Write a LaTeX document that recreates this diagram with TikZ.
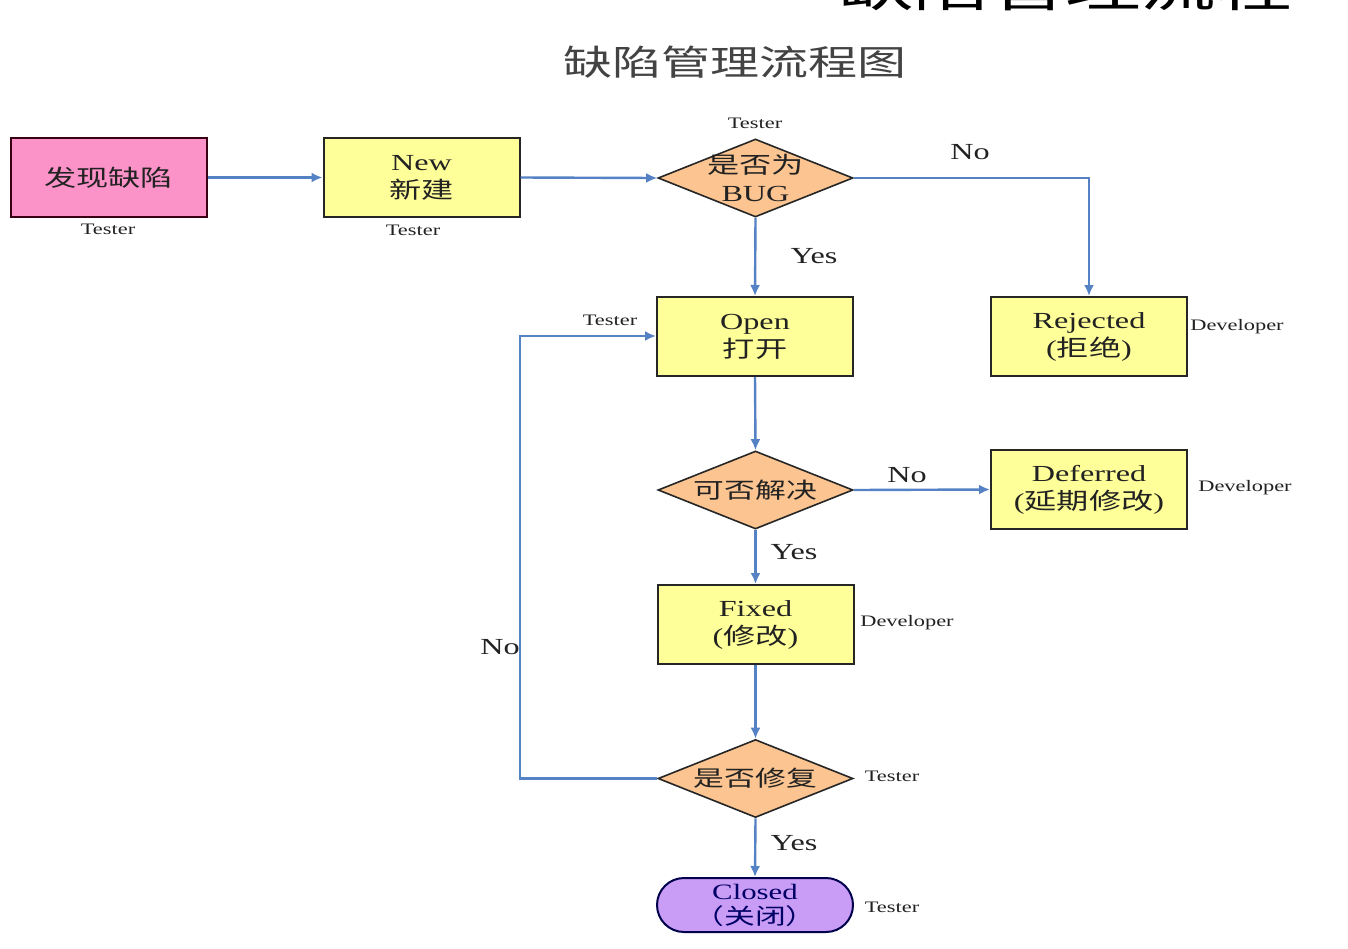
\documentclass[tikz,border=0pt]{standalone}
\usepackage{fontspec}
\setmainfont{Liberation Serif}[FakeStretch=1.4]
\newfontfamily\cjk{Noto Sans CJK SC}[FakeStretch=1.4]
\usetikzlibrary{shapes.geometric,arrows.meta}
\definecolor{pinkf}{HTML}{FB92C8}
\definecolor{yelf}{HTML}{FFFF99}
\definecolor{oranf}{HTML}{FBC490}
\definecolor{lavf}{HTML}{C99CF5}
\definecolor{linec}{HTML}{5582C4}
\definecolor{txt}{HTML}{222222}
\tikzset{
  boxnode/.style={draw=black!85, line width=2pt, minimum width=196pt, minimum height=79pt, inner sep=0pt, fill=yelf},
  dianode/.style={diamond, draw=black!85, line width=1.6pt, minimum width=195pt, minimum height=78pt, inner sep=0pt, fill=oranf},
  boxtext/.style={align=center, text=txt, font=\fontsize{23}{28}\selectfont},
  role/.style={text=txt, font=\fontsize{16}{17}\selectfont, inner sep=0pt},
  yn/.style={text=txt, font=\fontsize{23}{24}\selectfont, inner sep=0pt},
  flow/.style={draw=linec, line width=2.4pt, -{Latex[length=11pt,width=10pt]}}
}
\begin{document}
\begin{tikzpicture}[x=1pt,y=-1pt]
\useasboundingbox (0,0) rectangle (1348,948);
\fill[white] (0,0) rectangle (1348,948);

% titles
\node[anchor=base, text=black, font=\cjk\fontsize{54}{54}\selectfont, inner sep=0pt] (bigtitle) at (1065,6) {缺陷管理流程};
\node[text=txt!85, font=\cjk\fontsize{35}{35}\selectfont, inner sep=0pt] (title) at (735,62) {缺陷管理流程图};

% nodes
\node[boxnode, fill=pinkf, draw=black!70!purple] (find) at (108.5,177.5) {};
\node[boxtext, font=\cjk\fontsize{23}{28}\selectfont] at (find) {发现缺陷};
\node[role] (r1) at (108,229) {Tester};

\node[boxnode] (new) at (421.5,177.5) {};
\node[boxtext] at (new) {New\\{\cjk 新建}};
\node[role] (r2) at (413,230) {Tester};

\node[dianode] (isbug) at (755.5,178) {};
\node[boxtext] at (isbug) {{\cjk 是否为}\\BUG};
\node[role] (r3) at (755,123) {Tester};

\node[boxnode] (open) at (755,336.5) {};
\node[boxtext] at (open) {Open\\{\cjk 打开}};
\node[role] (r4) at (610,320) {Tester};

\node[boxnode] (rej) at (1089,336.5) {};
\node[boxtext] at (rej) {Rejected\\({\cjk 拒绝})};
\node[role] (r5) at (1237,327) {Developer};

\node[dianode] (solve) at (755.5,490) {};
\node[boxtext, font=\cjk\fontsize{22}{28}\selectfont] at (solve) {可否解决};

\node[boxnode] (def) at (1089,489.5) {};
\node[boxtext] at (def) {Deferred\\({\cjk 延期修改})};
\node[role] (r6) at (1245,488) {Developer};

\node[boxnode] (fix) at (755.5,624.5) {};
\node[boxtext] at (fix) {Fixed\\({\cjk 修改})};
\node[role] (r7) at (907,623) {Developer};

\node[dianode] (repair) at (755.5,778.5) {};
\node[boxtext, font=\cjk\fontsize{22}{28}\selectfont] at (repair) {是否修复};
\node[role] (r8) at (892,776) {Tester};

\node[draw=black!70!blue, line width=2pt, fill=lavf, minimum width=196pt, minimum height=54pt, rounded corners=27pt, inner sep=0pt] (closed) at (755,905) {};
\node[boxtext, text=black!60!blue, font=\fontsize{22}{25}\selectfont] at (closed) {Closed\\{\cjk （关闭）}};
\node[role] (r9) at (892,907) {Tester};

% connectors
\draw[flow] (find) -- (new);
\draw[flow] (new.east) -- (isbug.west);
\draw[flow] (isbug.east) -| (rej.north);
\draw[flow] (isbug.south) -- (open.north);
\draw[flow] (open.south) -- (solve.north);
\draw[flow] (solve.east) -- (def.west);
\draw[flow] (solve.south) -- (fix.north);
\draw[flow] (fix.south) -- (repair.north);
\draw[flow] (repair.south) -- (closed.north);
\coordinate (lp1) at (520,778.5);
\coordinate (lp2) at (520,336);
\draw[flow] (repair.west) -- (lp1) -- (lp2) -- (open.west |- lp2);

% labels
\node[yn] (no1) at (970,152) {No};
\node[yn] (yes1) at (814,256) {Yes};
\node[yn] (no2) at (907,475) {No};
\node[yn] (yes2) at (794,552) {Yes};
\node[yn] (no3) at (500,647) {No};
\node[yn] (yes3) at (794,843) {Yes};
\end{tikzpicture}
\end{document}
